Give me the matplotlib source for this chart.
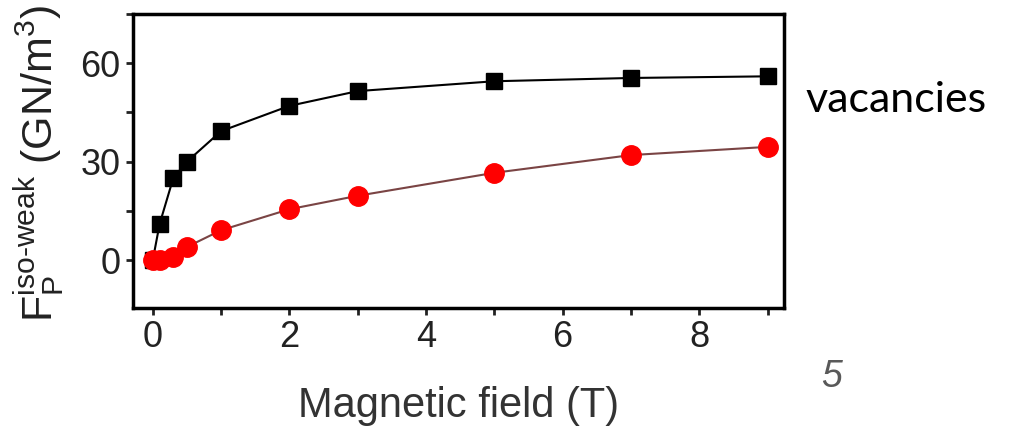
import matplotlib
matplotlib.use("Agg")
import matplotlib.pyplot as plt
from matplotlib.ticker import MultipleLocator

# field values (T)
field = [0, 0.1, 0.3, 0.5, 1, 2, 3, 5, 7, 9]
# pinning force, black squares and red circles (GN/m^3)
black_vals = [0, 11, 25, 30, 39.3, 47, 51.5, 54.5, 55.5, 56]
red_vals = [0, 0, 1, 4, 9.1, 15.5, 19.6, 26.6, 32, 34.5]

xticks = [0, 2, 4, 6, 8]
yticks = [0, 30, 60]

plt.rcParams['font.family'] = ['Liberation Sans', 'DejaVu Sans']
plt.rcParams['mathtext.fontset'] = 'custom'
plt.rcParams['mathtext.rm'] = 'Liberation Sans'
plt.rcParams['mathtext.it'] = 'Liberation Sans'
plt.rcParams['mathtext.default'] = 'regular'

fig = plt.figure(figsize=(10.12, 4.33), dpi=100)
ax = fig.add_axes([0.1314, 0.2887, 0.6433, 0.679])

ax.plot(field, black_vals, color='black', lw=1.5, marker='s', ms=12,
        mfc='black', mec='black', zorder=3)
ax.plot(field, red_vals, color='#7a4444', lw=1.5, marker='o', ms=14,
        mfc='#ff0000', mec='#ff0000', zorder=4)

ax.set_xlim(-0.29, 9.24)
ax.set_ylim(-14.6, 75)
ax.set_xticks(xticks)
ax.set_yticks(yticks)
ax.xaxis.set_minor_locator(MultipleLocator(1))
ax.yaxis.set_minor_locator(MultipleLocator(15))

for side in ['left', 'right', 'top', 'bottom']:
    ax.spines[side].set_linewidth(2.5)
ax.tick_params(which='both', direction='out', length=5, width=2,
               labelsize=26, colors='#222222', labelcolor='#222222')
ax.tick_params(axis='x', pad=4)
ax.tick_params(axis='y', pad=4)

ax.set_xlabel('Magnetic field (T)', fontsize=30, color='#333333', labelpad=22)
ax.set_ylabel(r'$F_P^{iso\text{-}weak}$ (GN/m$^3$)', fontsize=31,
              color='#222222')
ax.yaxis.set_label_coords(-0.103, 0.49)

fig.text(0.796, 0.768, 'vacancies', fontsize=31, family='Lato',
         color='black', va='center', ha='left')
fig.text(0.822, 0.13, '5', fontsize=27, style='italic',
         color='#595959', va='center', ha='center')

fig.savefig('out.png', dpi=100)
